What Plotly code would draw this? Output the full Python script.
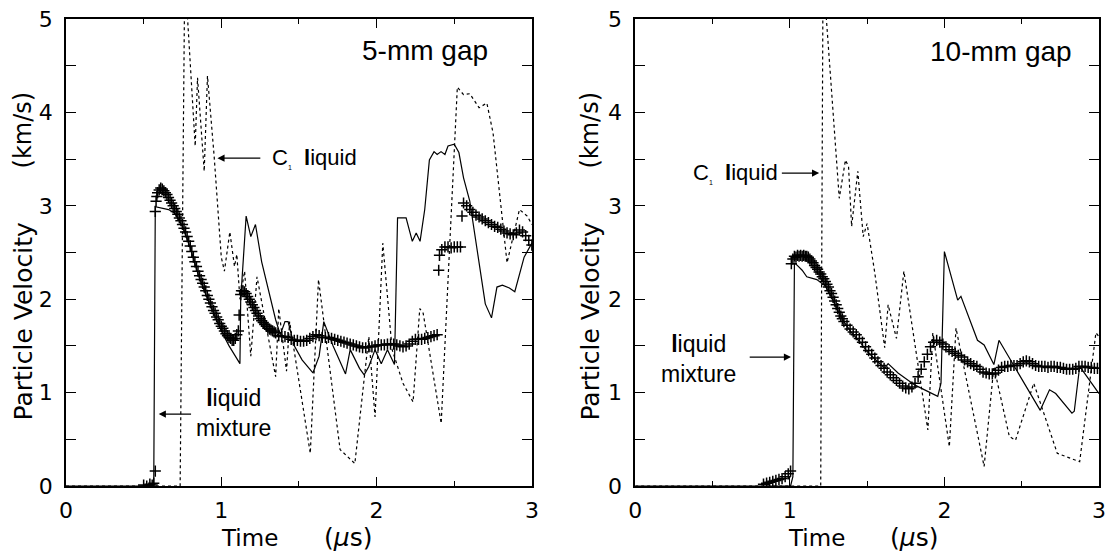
import plotly.graph_objects as go

# ---------------- Left panel (5-mm gap) ----------------
L_exp_t = [0.50,0.52,0.54,0.555,0.565,0.575,0.575,0.58,0.585,0.59,0.60,0.61,0.62,0.63,0.64,0.65,0.66,0.67,0.68,0.69,0.70,
           0.71,0.72,0.73,0.74,0.75,0.76,0.77,0.78,0.79,0.80,0.81,0.82,0.83,0.84,0.85,0.86,0.87,0.88,0.89,0.90,
           0.91,0.92,0.93,0.94,0.95,0.96,0.97,0.98,0.99,1.00,1.01,1.02,1.03,1.04,1.05,1.06,1.07,1.08,1.09,1.10,
           1.11,1.115,1.125,1.13,1.14,1.15,1.16,1.17,1.18,1.19,1.20,1.21,1.22,1.23,1.24,1.25,1.26,1.27,1.28,1.29,
           1.30,1.31,1.32,1.33,1.34,1.35,1.37,1.39,1.41,1.43,1.45,1.47,1.49,1.51,1.53,1.55,1.57,1.59,1.61,1.63,
           1.65,1.67,1.69,1.71,1.73,1.75,1.77,1.79,1.81,1.83,1.85,1.87,1.89,1.91,1.93,1.95,1.97,1.99,2.01,2.03,
           2.05,2.07,2.09,2.11,2.13,2.15,2.17,2.19,2.21,2.23,2.25,2.27,2.29,2.31,2.33,2.35,2.37,2.39,
           2.40,2.405,2.42,2.44,2.46,2.48,2.50,2.52,2.54,2.55,2.56,2.58,2.60,2.62,2.64,2.66,2.68,2.70,2.72,2.74,
           2.76,2.78,2.80,2.82,2.84,2.86,2.88,2.90,2.92,2.94,2.96,2.98,3.00]
L_exp_v = [0.01,0.00,0.02,0.01,0.03,0.16,2.94,3.05,3.10,3.14,3.17,3.19,3.18,3.16,3.14,3.12,3.09,3.06,3.03,3.00,2.97,
           2.94,2.91,2.87,2.84,2.80,2.76,2.72,2.67,2.62,2.57,2.51,2.45,2.40,2.35,2.30,2.25,2.21,2.17,2.13,2.09,
           2.04,2.00,1.96,1.92,1.88,1.85,1.81,1.78,1.74,1.71,1.69,1.66,1.63,1.61,1.59,1.58,1.56,1.56,1.58,1.62,
           1.66,1.83,2.05,2.09,2.09,2.08,2.06,2.03,2.00,1.97,1.94,1.91,1.88,1.85,1.82,1.79,1.77,1.75,1.73,1.71,
           1.69,1.68,1.67,1.66,1.65,1.64,1.61,1.60,1.60,1.59,1.57,1.56,1.56,1.55,1.55,1.56,1.58,1.60,1.62,1.61,
           1.59,1.59,1.59,1.58,1.57,1.56,1.55,1.54,1.53,1.52,1.51,1.50,1.49,1.48,1.48,1.49,1.49,1.50,1.51,1.51,
           1.51,1.52,1.52,1.52,1.51,1.50,1.49,1.50,1.52,1.55,1.57,1.57,1.57,1.58,1.59,1.60,1.61,1.62,
           2.31,2.47,2.53,2.56,2.56,2.55,2.56,2.56,2.56,2.89,3.03,3.00,2.96,2.93,2.90,2.88,2.86,2.84,2.82,2.80,
           2.78,2.77,2.75,2.73,2.71,2.70,2.69,2.71,2.74,2.72,2.68,2.63,2.58]

L_mix_t = [0.0,0.565,0.575,0.66,0.70,0.75,0.80,0.85,0.90,0.95,1.00,1.05,1.08,1.12,1.125,1.16,1.19,1.22,1.26,1.30,1.35,
           1.38,1.41,1.43,1.47,1.52,1.59,1.63,1.66,1.72,1.80,1.83,1.89,1.92,1.95,1.99,2.03,2.07,2.115,2.135,2.17,
           2.19,2.23,2.255,2.28,2.31,2.34,2.37,2.39,2.415,2.44,2.46,2.50,2.53,2.56,2.60,2.65,2.70,2.74,2.775,2.81,
           2.855,2.89,2.95,3.0]
L_mix_v = [0.0,0.0,2.99,2.96,2.92,2.78,2.55,2.27,2.05,1.85,1.66,1.50,1.42,1.31,2.00,2.89,2.67,2.80,2.40,2.12,1.78,
           1.62,1.76,1.76,1.50,1.35,1.21,1.39,1.76,1.50,1.20,1.46,1.26,1.19,1.28,1.46,1.31,1.46,1.30,2.87,2.87,
           2.87,2.62,2.71,2.62,2.96,3.49,3.58,3.55,3.58,3.55,3.64,3.66,3.57,3.30,3.05,2.50,1.95,1.80,2.13,2.15,
           2.12,2.08,2.45,2.60]

L_c1_t = [0.0,0.735,0.765,0.832,0.847,0.89,0.911,0.954,1.00,1.02,1.055,1.085,1.10,1.12,1.15,1.19,1.23,1.35,1.37,
          1.42,1.44,1.573,1.626,1.765,1.86,1.95,1.99,2.04,2.10,2.17,2.235,2.278,2.30,2.416,2.46,2.50,2.52,2.56,
          2.60,2.66,2.71,2.75,2.84,2.92,2.97,3.0]
L_c1_v = [0.0,0.0,5.5,3.64,4.37,3.37,4.39,3.53,2.45,2.30,2.72,2.35,2.48,2.00,2.30,1.39,2.24,1.17,1.90,
          1.23,1.76,0.35,2.21,0.39,0.24,1.60,0.74,2.60,1.46,1.10,0.90,1.90,1.85,0.67,2.20,3.60,4.27,4.19,
          4.20,4.05,4.10,3.78,2.39,2.96,2.89,2.80]

# ---------------- Right panel (10-mm gap) ----------------
R_exp_t = [0.83,0.85,0.87,0.89,0.91,0.93,0.95,0.97,0.99,1.005,1.01,1.02,1.03,1.04,1.05,1.06,1.07,1.08,1.09,1.10,
           1.11,1.12,1.13,1.14,1.15,1.16,1.17,1.18,1.19,1.20,1.21,1.22,1.23,1.24,1.25,1.26,1.27,1.28,1.29,1.30,
           1.31,1.32,1.33,1.34,1.35,1.37,1.39,1.41,1.43,1.45,1.47,1.49,1.51,1.53,1.55,1.57,1.59,1.61,1.63,1.65,
           1.67,1.69,1.71,1.73,1.75,1.77,1.79,1.81,1.83,1.85,1.87,1.89,1.91,1.93,1.95,1.97,1.99,2.01,2.03,2.05,
           2.07,2.09,2.11,2.13,2.15,2.17,2.19,2.21,2.23,2.25,2.27,2.29,2.31,2.33,2.35,2.37,2.39,2.41,2.43,2.45,
           2.47,2.49,2.51,2.53,2.55,2.57,2.59,2.61,2.63,2.65,2.67,2.69,2.71,2.73,2.75,2.77,2.79,2.81,2.83,2.85,
           2.87,2.89,2.91,2.93,2.95,2.97,2.99]
R_exp_v = [0.02,0.03,0.04,0.05,0.06,0.07,0.08,0.10,0.13,0.16,2.38,2.43,2.46,2.45,2.47,2.46,2.47,2.46,2.47,2.46,
           2.46,2.45,2.43,2.41,2.39,2.36,2.34,2.32,2.29,2.27,2.24,2.22,2.19,2.16,2.13,2.09,2.06,2.02,1.98,1.94,
           1.90,1.86,1.82,1.79,1.76,1.72,1.68,1.65,1.62,1.58,1.54,1.49,1.45,1.41,1.37,1.33,1.29,1.26,1.22,1.19,
           1.16,1.13,1.10,1.07,1.05,1.04,1.06,1.10,1.17,1.25,1.33,1.41,1.49,1.54,1.56,1.54,1.52,1.49,1.46,1.44,
           1.42,1.40,1.38,1.35,1.33,1.31,1.29,1.28,1.25,1.22,1.21,1.20,1.20,1.21,1.24,1.27,1.28,1.28,1.29,1.29,
           1.29,1.31,1.33,1.34,1.33,1.31,1.29,1.28,1.28,1.28,1.27,1.28,1.28,1.27,1.27,1.26,1.25,1.25,1.25,1.26,
           1.28,1.28,1.28,1.27,1.27,1.26,1.26]

R_mix_t = [0.0,1.005,1.02,1.03,1.05,1.08,1.11,1.175,1.23,1.27,1.31,1.35,1.40,1.45,1.50,1.55,1.614,1.636,1.70,1.81,
           1.957,1.978,1.996,2.0,2.086,2.107,2.214,2.257,2.32,2.353,2.62,2.68,2.72,2.825,2.84,2.875,3.0]
R_mix_v = [0.0,0.0,0.10,2.39,2.36,2.31,2.24,2.21,2.14,2.02,1.88,1.76,1.64,1.55,1.44,1.36,1.26,1.31,1.21,1.08,
           0.96,1.10,2.51,2.51,1.99,2.03,1.56,1.51,1.30,1.56,0.81,1.03,0.99,0.78,0.80,1.28,0.99]

R_c1_t = [0.0,1.20,1.215,1.32,1.36,1.38,1.40,1.44,1.475,1.50,1.55,1.614,1.636,1.69,1.738,1.893,1.925,2.032,2.075,
          2.257,2.32,2.42,2.46,2.578,2.73,2.835,2.875,2.98,3.0]
R_c1_v = [0.0,0.0,5.5,3.08,3.49,3.42,2.78,3.37,2.67,2.81,2.28,1.48,1.94,1.58,2.30,0.60,1.64,0.42,1.69,
          0.21,1.28,0.53,0.49,1.10,0.35,0.28,0.26,1.64,1.60]

x_ticks = [0, 1, 2, 3]
y_ticks = [0, 1, 2, 3, 4, 5]
panel_titles = ["5-mm gap", "10-mm gap"]

AX_FONT = "DejaVu Sans"
TXT_FONT = "Liberation Sans"

fig = go.Figure()

def add_panel(xa, ya, exp_t, exp_v, mix_t, mix_v, c1_t, c1_v):
    fig.add_trace(go.Scatter(x=c1_t, y=c1_v, mode="lines", xaxis=xa, yaxis=ya,
                             line=dict(color="black", width=1.2, dash="dot"), showlegend=False))
    fig.add_trace(go.Scatter(x=mix_t, y=mix_v, mode="lines", xaxis=xa, yaxis=ya,
                             line=dict(color="black", width=1.2), showlegend=False))
    fig.add_trace(go.Scatter(x=exp_t, y=exp_v, mode="markers", xaxis=xa, yaxis=ya,
                             marker=dict(symbol="cross-thin", size=8, color="black",
                                         line=dict(color="black", width=1.5)),
                             showlegend=False))

add_panel("x", "y", L_exp_t, L_exp_v, L_mix_t, L_mix_v, L_c1_t, L_c1_v)
add_panel("x2", "y2", R_exp_t, R_exp_v, R_mix_t, R_mix_v, R_c1_t, R_c1_v)

xcommon = dict(range=[0, 3], tickvals=x_ticks, ticks="inside", ticklen=9, tickwidth=1.2,
               tickcolor="black", mirror="allticks", showline=True, linecolor="black", linewidth=1.6,
               showgrid=False, zeroline=False, ticklabelstandoff=4,
               minor=dict(dtick=0.5, ticks="inside", ticklen=5, tickcolor="black", tickwidth=1.2),
               tickfont=dict(family=AX_FONT, size=22, color="black"))
ycommon = dict(range=[0, 5], tickvals=y_ticks, ticks="inside", ticklen=10, tickwidth=1.2,
               tickcolor="black", mirror="allticks", showline=True, linecolor="black", linewidth=1.6,
               showgrid=False, zeroline=False, ticklabelstandoff=7,
               minor=dict(dtick=0.5, ticks="inside", ticklen=10, tickcolor="black", tickwidth=1.2),
               tickfont=dict(family=AX_FONT, size=22, color="black"))

fig.update_layout(
    width=1113, height=553,
    margin=dict(l=66, r=7, t=19, b=67),
    paper_bgcolor="white", plot_bgcolor="white",
    xaxis=dict(domain=[0, 0.451], anchor="y", **xcommon),
    yaxis=dict(domain=[0, 1], anchor="x", **ycommon),
    xaxis2=dict(domain=[0.551, 1.0], anchor="y2", **xcommon),
    yaxis2=dict(domain=[0, 1], anchor="x2", **ycommon),
)

def label(text, x, y, size, family, xanchor="center", angle=0):
    return dict(text=text, x=x, y=y, xref="paper", yref="paper", xanchor=xanchor, yanchor="middle",
                showarrow=False, textangle=angle, font=dict(family=family, size=size, color="black"))

ann = []
ann.append(label(panel_titles[0], 0.348, 0.932, 28, TXT_FONT))
ann.append(label(panel_titles[1], 0.905, 0.930, 28, TXT_FONT))

c1_label = "C<sub><span style='font-size:7px'>1</span></sub>  <b>l</b>iquid"
mix_label = "<b>l</b>iquid<br>mixture"
ann.append(label(c1_label, 0.197, 0.702, 22, TXT_FONT, xanchor="left"))
ann.append(label(mix_label, 0.1625, 0.156, 23, TXT_FONT))
ann.append(label(c1_label, 0.605, 0.670, 22, TXT_FONT, xanchor="left"))
ann.append(label(mix_label, 0.6125, 0.272, 23, TXT_FONT))

def arrow(xr, yr, x, y, ax, ay):
    return dict(text="", x=x, y=y, ax=ax, ay=ay, xref=xr, yref=yr, axref=xr, ayref=yr,
                showarrow=True, arrowhead=2, arrowsize=1.3, arrowwidth=1.1, arrowcolor="black",
                standoff=0, startstandoff=0)

ann.append(arrow("x", "y", 0.975, 3.51, 1.261, 3.51))
ann.append(arrow("x", "y", 0.597, 0.77, 0.815, 0.77))
ann.append(arrow("x2", "y2", 1.19, 3.35, 0.939, 3.35))
ann.append(arrow("x2", "y2", 1.008, 1.38, 0.731, 1.38))

for px in (-0.0413, 0.5077):
    ann.append(label("Particle Velocity", px, 0.353, 25, AX_FONT, angle=-90))
    ann.append(label("(km/s)", px, 0.762, 24, AX_FONT, angle=-90))
for tx, ux in ((0.178, 0.273), (0.727, 0.821)):
    ann.append(label("Time", tx, -0.111, 23, AX_FONT))
    ann.append(label("(<i>μ</i>s)", ux, -0.111, 25, AX_FONT))

fig.update_layout(annotations=ann)
fig.write_html("out.html")
